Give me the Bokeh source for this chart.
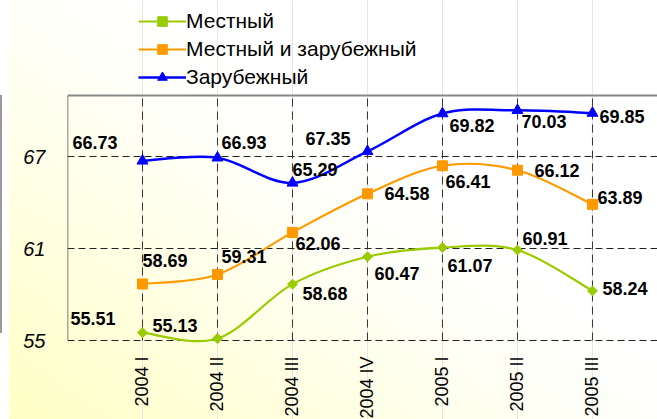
import math
from bokeh.plotting import figure
from bokeh.models import (FixedTicker, ColumnDataSource, Legend, LegendItem, Range1d)
from bokeh.core.properties import value
from bokeh.embed import file_html
from bokeh.resources import INLINE

categories = ["2004 I", "2004 II", "2004 III", "2004 IV", "2005 I", "2005 II", "2005 III"]
local = [55.51, 55.13, 58.68, 60.47, 61.07, 60.91, 58.24]
mixed = [58.69, 59.31, 62.06, 64.58, 66.41, 66.12, 63.89]
foreign = [66.73, 66.93, 65.29, 67.35, 69.82, 70.03, 69.85]
series_names = ["Местный", "Местный и зарубежный", "Зарубежный"]
y_ticks = [55, 61, 67]
y_min, y_max = 55, 71

# data-label offsets in pixels (right / down)
local_dx = [-72, -65, 10, 7, 5, 5, 10]
local_dy = [-14, -13, 9, 17, 18, -12, -2]
mixed_dx = [0, 4, 3, 17, 3, 17, 5]
mixed_dy = [-23, -18, 11, 0, 16, 0, -7]
foreign_dx = [-70, 4, 0, -62, 7, 4, 7]
foreign_dy = [-18, -15, -13, -13, 12, 11, 3]

FONT = "Liberation Sans"
xs = list(range(len(categories)))

# the value area (55..71) is 245 px tall; 95 px above it hold the legend,
# 79 px below it hold the category labels
unit = (y_max - y_min) / 245
p = figure(width=657, height=419, output_backend="svg", toolbar_location=None,
           x_range=Range1d(-1, 6.867),
           y_range=Range1d(y_min - 79 * unit, y_max + 95 * unit),
           x_axis_location=None,
           min_border_left=67, min_border_right=0, min_border_top=0, min_border_bottom=0)
p.background_fill_alpha = 0
p.border_fill_alpha = 0
p.outline_line_color = None
p.styles = {"background": (
    "linear-gradient(to bottom, rgba(0,0,0,0) 95px, #9a9a9a 95px, #9a9a9a 333px, rgba(0,0,0,0) 333px) 0 0 / 2px 100% no-repeat, "
    "linear-gradient(to right, #ffffff 9px, rgba(255,255,255,0) 9px), "
    "linear-gradient(35deg, #ffffc4 0%, #ffffe6 30%, #fffff8 48%, #ffffff 60%)")}

p.yaxis.ticker = FixedTicker(ticks=y_ticks)
p.yaxis.major_label_text_font = FONT
p.yaxis.major_label_text_font_style = "italic"
p.yaxis.major_label_text_font_size = "20px"
p.yaxis.major_label_text_color = "black"
p.yaxis.major_tick_line_color = None
p.yaxis.major_tick_out = 0
p.yaxis.major_tick_in = 0
p.yaxis.minor_tick_line_color = None
p.yaxis.major_label_standoff = 22
p.yaxis.axis_line_color = None
p.ygrid.ticker = FixedTicker(ticks=y_ticks)
p.ygrid.grid_line_color = "#222222"
p.ygrid.grid_line_dash = "7 4"
p.ygrid.grid_line_width = 1

# vertical dashed category lines, left axis and top border of the value area
grid_x = list(range(len(categories) + 1))
p.segment(x0=grid_x, y0=[y_min] * len(grid_x), x1=grid_x, y1=[y_max] * len(grid_x),
          line_color="#333333", line_dash="8 5", line_width=1)
p.segment(x0=[-1], y0=[y_min], x1=[-1], y1=[y_max], line_color="#555555", line_width=1.5)
p.segment(x0=[-1], y0=[y_max], x1=[grid_x[-1]], y1=[y_max], line_color="#888888", line_width=2)

# category labels below the value area
p.text(x=xs, y=[y_min] * len(xs), text=categories, angle=math.pi / 2, y_offset=16,
       text_align="right", text_baseline="middle", text_font=value(FONT),
       text_font_size="18px", text_color="black")


def smooth(xv, yv):
    n = len(xv)
    out = dict(x0=[], y0=[], x1=[], y1=[], cx0=[], cy0=[], cx1=[], cy1=[])
    for i in range(n - 1):
        pm = i - 1 if i > 0 else i
        pn = i + 2 if i + 2 < n else i + 1
        out["x0"].append(xv[i]); out["y0"].append(yv[i])
        out["x1"].append(xv[i + 1]); out["y1"].append(yv[i + 1])
        out["cx0"].append(xv[i] + (xv[i + 1] - xv[pm]) / 6)
        out["cy0"].append(yv[i] + (yv[i + 1] - yv[pm]) / 6)
        out["cx1"].append(xv[i + 1] - (xv[pn] - xv[i]) / 6)
        out["cy1"].append(yv[i + 1] - (yv[pn] - yv[i]) / 6)
    return out


styles = [
    (local, "#99CC00", dict(marker="square", angle=math.pi / 4, size=7), local_dx, local_dy, 2.2),
    (mixed, "#FF9900", dict(marker="square", size=10), mixed_dx, mixed_dy, 2.2),
    (foreign, "#0000FF", dict(marker="triangle", size=11), foreign_dx, foreign_dy, 2.5),
]

items = []
for (vals, color, mk, dx, dy, lw), name in zip(styles, series_names):
    b = p.bezier(source=ColumnDataSource(smooth(xs, vals)), x0="x0", y0="y0", x1="x1", y1="y1",
                 cx0="cx0", cy0="cy0", cx1="cx1", cy1="cy1", line_color=color, line_width=lw)
    s = p.scatter(xs, vals, fill_color=color, line_color=color, **mk)
    items.append(LegendItem(label=name, renderers=[b, s]))

for (vals, color, mk, dx, dy, lw) in styles:
    p.text(x=xs, y=vals, text=[f"{v:.2f}" for v in vals], x_offset=dx, y_offset=dy,
           text_font=value(FONT), text_font_style="bold", text_font_size="18px",
           text_color="black", text_align="left", text_baseline="middle")

legend = Legend(items=items, location=(65, 324), orientation="vertical",
                label_text_font=FONT, label_text_font_size="21px", label_text_color="black",
                glyph_width=48, glyph_height=24, label_height=24, spacing=4,
                padding=6, margin=0, label_standoff=0,
                border_line_alpha=0, background_fill_alpha=0)
p.add_layout(legend)

open("out.html", "w").write(file_html(p, INLINE))
